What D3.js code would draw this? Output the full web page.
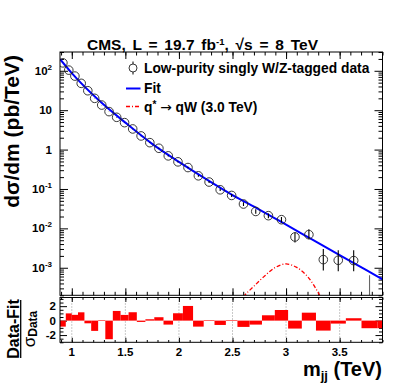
<!DOCTYPE html>
<html lang="en">
<head>
<meta charset="utf-8">
<title>dijet mass</title>
<script src="https://cdnjs.cloudflare.com/ajax/libs/d3/7.8.5/d3.min.js"></script>
<style>
body { margin: 0; background: #fff; }
text { font-family: "Liberation Sans", Arial, sans-serif; font-weight: bold; fill: #000; }
</style>
</head>
<body>
<script>
// bin edges in TeV (last one runs off the frame)
var binEdges = [0.890, 0.944, 1.000, 1.058, 1.118, 1.181, 1.246, 1.313, 1.383, 1.455, 1.530,
  1.607, 1.687, 1.770, 1.856, 1.945, 2.037, 2.132, 2.231, 2.332, 2.438, 2.546, 2.659,
  2.775, 2.895, 3.019, 3.147, 3.279, 3.416, 3.558, 3.704, 3.854, 4.010];

// dsigma/dm in pb/TeV, one per bin (last measured bin is empty)
var xsec = [159, 104, 73.4, 48, 31.2, 20, 13.5, 9.2, 6.6, 4.83, 3.34, 2.22, 1.50, 1.08,
  0.693, 0.488, 0.350, 0.216, 0.150, 0.0954, 0.0685, 0.0415, 0.0269, 0.0210, 0.0166,
  0.00605, 0.00693, 0.00161, 0.00155, 0.00152, 0];
var errUp = [0.4, 0.3, 0.25, 0.2, 0.15, 0.12, 0.1, 0.08, 0.07, 0.06, 0.05, 0.04, 0.03, 0.027,
  0.021, 0.017, 0.014, 0.011, 0.009, 0.007, 0.0058, 0.0045, 0.0035, 0.003, 0.0027,
  0.0019, 0.0026, 0.0014, 0.00125, 0.00128, 0.00065];
var errDown = [0.4, 0.3, 0.25, 0.2, 0.15, 0.12, 0.1, 0.08, 0.07, 0.06, 0.05, 0.04, 0.03, 0.027,
  0.021, 0.017, 0.014, 0.011, 0.009, 0.007, 0.0058, 0.0045, 0.0035, 0.003, 0.0025,
  0.0017, 0.0016, 0.00076, 0.00074, 0.00071, 0];

// (data-fit)/sigma per bin
var pull = [-0.83, 1.0, 0.8, 1.15, -0.37, -1.42, 0.08, -2.57, 1.34, 0.79, 1.16, -0.18, 0.19,
  0.47, -0.55, 1.02, 2.03, -0.83, 0.08, -0.6, 0.08, -0.87, -0.55, 0.74, 1.47, -1.1, 1.1,
  -1.38, -0.41, 0.33, -1.05, -1.05];

// fit curve
var fitMass = [0.89, 1.0, 1.25, 1.5, 1.75, 2.0, 2.25, 2.5, 2.75, 3.0, 3.25, 3.5, 3.75, 3.9];
var fitXsec = [198, 87.5, 18.1, 4.83, 1.40, 0.488, 0.180, 0.070, 0.030, 0.0124, 0.0051,
  0.0021, 0.00087, 0.00051];

// q* -> qW 3 TeV signal shape
var sigMass = [2.50, 2.55, 2.62, 2.70, 2.80, 2.90, 3.00, 3.10, 3.20, 3.28, 3.35, 3.40];
var sigXsec = [0.00008, 0.00013, 0.00021, 0.00034, 0.00062, 0.00102, 0.00125, 0.00102,
  0.00060, 0.00029, 0.00013, 0.00008];

var xMajor = [1, 1.5, 2, 2.5, 3, 3.5];
var xLabels = ["1", "1.5", "2", "2.5", "3", "3.5"];
var yPowers = [-3, -2, -1, 0, 1, 2];
var pullTicks = [-2, 0, 2];

var w = 407, h = 392;
var L = 60, R = 382.5, T = 52, B1 = 295.3, T2 = 297.5, B2 = 342.3;

var svg = d3.select("body").append("svg")
  .attr("width", w).attr("height", h);

var x = d3.scaleLinear().domain([0.89, 3.9]).range([L, R]);
var y = d3.scaleLog().domain([2e-4, 300]).range([B1, T]);
var yp = d3.scaleLinear().domain([-3, 3.2]).range([B2, T2]);

var defs = svg.append("defs");
defs.append("clipPath").attr("id", "cTop")
  .append("rect").attr("x", L).attr("y", T).attr("width", R - L).attr("height", B1 - T);
defs.append("clipPath").attr("id", "cBot")
  .append("rect").attr("x", L).attr("y", T2).attr("width", R - L).attr("height", B2 - T2);

var centers = xsec.map(function(d, i) { return (binEdges[i] + binEdges[i + 1]) / 2; });

// ---- ticks
var xMinor = d3.range(9, 40).map(function(d) { return d / 10; });
var yMajor = yPowers.map(function(p) { return Math.pow(10, p); });
var yMinor = y.ticks().filter(function(d) { return yMajor.indexOf(d) < 0; });

function ticks(axis, tx, ty) {
  var g = svg.append("g").attr("transform", "translate(" + tx + "," + ty + ")").call(axis);
  g.select(".domain").remove();
  g.selectAll("line").attr("stroke", "#000");
  return g;
}
// upper panel
ticks(d3.axisBottom(x).tickValues(xMajor).tickSize(-7).tickFormat(""), 0, B1);
ticks(d3.axisBottom(x).tickValues(xMinor).tickSize(-3.5).tickFormat(""), 0, B1);
ticks(d3.axisTop(x).tickValues(xMajor).tickSize(-7).tickFormat(""), 0, T);
ticks(d3.axisTop(x).tickValues(xMinor).tickSize(-3.5).tickFormat(""), 0, T);
ticks(d3.axisLeft(y).tickValues(yMajor).tickSize(-8).tickFormat(""), L, 0);
ticks(d3.axisLeft(y).tickValues(yMinor).tickSize(-4).tickFormat(""), L, 0);
ticks(d3.axisRight(y).tickValues(yMajor).tickSize(-8).tickFormat(""), R, 0);
ticks(d3.axisRight(y).tickValues(yMinor).tickSize(-4).tickFormat(""), R, 0);
// lower panel
var pMinor = d3.range(-3, 3.5, 0.5).filter(function(d) { return pullTicks.indexOf(d) < 0; });
ticks(d3.axisBottom(x).tickValues(xMajor).tickSize(-4.5).tickFormat(""), 0, B2);
ticks(d3.axisBottom(x).tickValues(xMinor).tickSize(-2.3).tickFormat(""), 0, B2);
ticks(d3.axisTop(x).tickValues(xMajor).tickSize(-4.5).tickFormat(""), 0, T2);
ticks(d3.axisTop(x).tickValues(xMinor).tickSize(-2.3).tickFormat(""), 0, T2);
ticks(d3.axisLeft(yp).tickValues(pullTicks).tickSize(-7).tickFormat(""), L, 0);
ticks(d3.axisLeft(yp).tickValues(pMinor).tickSize(-3.5).tickFormat(""), L, 0);
ticks(d3.axisRight(yp).tickValues(pullTicks).tickSize(-7).tickFormat(""), R, 0);
ticks(d3.axisRight(yp).tickValues(pMinor).tickSize(-3.5).tickFormat(""), R, 0);

// dotted grid in the ratio panel
svg.append("g").selectAll("line").data(xMajor).enter().append("line")
  .attr("x1", function(d) { return x(d); }).attr("x2", function(d) { return x(d); })
  .attr("y1", T2).attr("y2", B2)
  .attr("stroke", "#777").attr("stroke-width", 0.8).attr("stroke-dasharray", "1,2");

// ---- upper panel marks
var upper = svg.append("g").attr("clip-path", "url(#cTop)");

var sigLine = d3.line()
  .x(function(d, i) { return x(sigMass[i]); })
  .y(function(d) { return y(d); })
  .curve(d3.curveCatmullRom);
upper.append("path").datum(sigXsec).attr("d", sigLine)
  .attr("fill", "none").attr("stroke", "#ff0000").attr("stroke-width", 1.3)
  .attr("stroke-dasharray", "4,2,1,2");

var fitLine = d3.line()
  .x(function(d, i) { return x(fitMass[i]); })
  .y(function(d) { return y(d); })
  .curve(d3.curveMonotoneX);
upper.append("path").datum(fitXsec).attr("d", fitLine)
  .attr("fill", "none").attr("stroke", "#0000ff").attr("stroke-width", 2);

var pts = upper.append("g");
pts.selectAll("line").data(xsec).enter().append("line")
  .attr("x1", function(d, i) { return x(centers[i]); })
  .attr("x2", function(d, i) { return x(centers[i]); })
  .attr("y1", function(d, i) { return y(d + errUp[i]); })
  .attr("y2", function(d, i) { return d - errDown[i] > 0 ? y(d - errDown[i]) : B1; })
  .attr("stroke", function(d) { return d > 0 ? "#000" : "#666"; })
  .attr("stroke-width", 1.1);
pts.selectAll("circle").data(xsec.filter(function(d) { return d > 0; })).enter().append("circle")
  .attr("cx", function(d, i) { return x(centers[i]); })
  .attr("cy", function(d) { return y(d); })
  .attr("r", 4.3)
  .attr("fill", "none").attr("stroke", "#222").attr("stroke-width", 0.9);

// ---- residuals
svg.append("g").attr("clip-path", "url(#cBot)")
  .selectAll("rect").data(pull).enter().append("rect")
  .attr("x", function(d, i) { return x(binEdges[i]); })
  .attr("width", function(d, i) { return x(binEdges[i + 1]) - x(binEdges[i]); })
  .attr("y", function(d) { return yp(Math.max(0, d)); })
  .attr("height", function(d) { return Math.abs(yp(d) - yp(0)); })
  .attr("fill", "#ff0000");

// frames
svg.append("rect").attr("x", L).attr("y", T).attr("width", R - L).attr("height", B1 - T)
  .attr("fill", "none").attr("stroke", "#000").attr("stroke-width", 1);
svg.append("rect").attr("x", L).attr("y", T2).attr("width", R - L).attr("height", B2 - T2)
  .attr("fill", "none").attr("stroke", "#000").attr("stroke-width", 1);

// ---- labels
svg.append("g").selectAll("text").data(xMajor).enter().append("text")
  .attr("x", function(d) { return x(d); }).attr("y", 355.5)
  .attr("text-anchor", "middle").attr("font-size", 11.5)
  .text(function(d, i) { return xLabels[i]; });

var yl = svg.append("g").selectAll("text").data(yPowers).enter().append("text")
  .attr("x", 52).attr("y", function(d) { return y(Math.pow(10, d)) + 4; })
  .attr("text-anchor", "end").attr("font-size", 11.5);
yl.each(function(p) {
  var t = d3.select(this);
  if (p === 0) t.text("1");
  else if (p === 1) t.text("10");
  else {
    t.append("tspan").text("10");
    t.append("tspan").attr("dy", -5).attr("font-size", 8).text(p);
  }
});

svg.append("g").selectAll("text").data(pullTicks).enter().append("text")
  .attr("x", 56).attr("y", function(d) { return yp(d) + 4; })
  .attr("text-anchor", "end").attr("font-size", 11.5)
  .text(function(d) { return d; });

// axis titles
svg.append("text").attr("transform", "translate(19,55) rotate(-90)")
  .attr("text-anchor", "end").attr("font-size", 21)
  .text("d\u03c3/dm (pb/TeV)");

var frac = svg.append("g").attr("transform", "translate(20.7,329) rotate(-90)");
frac.append("text").attr("x", 0).attr("y", -1.8).attr("text-anchor", "middle")
  .attr("font-size", 16).text("Data-Fit");
frac.append("line").attr("x1", -29).attr("x2", 29).attr("y1", 0).attr("y2", 0)
  .attr("stroke", "#000").attr("stroke-width", 1.3);
var den = frac.append("text").attr("x", 0).attr("y", 14).attr("text-anchor", "middle")
  .attr("font-size", 17);
den.append("tspan").attr("font-weight", "normal").text("\u03c3");
den.append("tspan").attr("dy", 2).attr("font-size", 12).text("Data");

var xt = svg.append("text").attr("x", 382).attr("y", 376)
  .attr("text-anchor", "end").attr("font-size", 20);
xt.append("tspan").text("m");
xt.append("tspan").attr("dy", 4).attr("font-size", 13).text("jj");
xt.append("tspan").attr("dy", -4).text(" (TeV)");

// title
var title = svg.append("text").attr("x", 202.5).attr("y", 49.5)
  .attr("text-anchor", "middle").attr("font-size", 15.5).attr("word-spacing", 2.5);
title.append("tspan").text("CMS, L = 19.7 fb");
title.append("tspan").attr("dy", -5).attr("font-size", 9.5).text("-1");
title.append("tspan").attr("dy", 5).text(", \u221as = 8 TeV");

// ---- legend
var lg = svg.append("g");
lg.append("line").attr("x1", 133).attr("x2", 133).attr("y1", 61.5).attr("y2", 74.5)
  .attr("stroke", "#000").attr("stroke-width", 1);
lg.append("circle").attr("cx", 133).attr("cy", 68).attr("r", 4)
  .attr("fill", "#fff").attr("stroke", "#222").attr("stroke-width", 0.9);
lg.append("text").attr("x", 144).attr("y", 73).attr("font-size", 13.8)
  .text("Low-purity singly W/Z-tagged data");
lg.append("line").attr("x1", 126).attr("x2", 140.5).attr("y1", 88.5).attr("y2", 88.5)
  .attr("stroke", "#0000ff").attr("stroke-width", 2);
lg.append("text").attr("x", 144).attr("y", 93).attr("font-size", 13.8).text("Fit");
lg.append("line").attr("x1", 126).attr("x2", 140.5).attr("y1", 106.5).attr("y2", 106.5)
  .attr("stroke", "#ff0000").attr("stroke-width", 1.3).attr("stroke-dasharray", "4,2,1,2");
var sl = lg.append("text").attr("x", 144).attr("y", 112).attr("font-size", 13.8);
sl.append("tspan").text("q");
sl.append("tspan").attr("dy", -4).attr("font-size", 10).text("*");
sl.append("tspan").attr("dy", 4).text(" ");
sl.append("tspan").attr("font-family", "DejaVu Sans").attr("font-weight", "normal")
  .text("\u2192");
sl.append("tspan").text(" qW (3.0 TeV)");
</script>
</body>
</html>
